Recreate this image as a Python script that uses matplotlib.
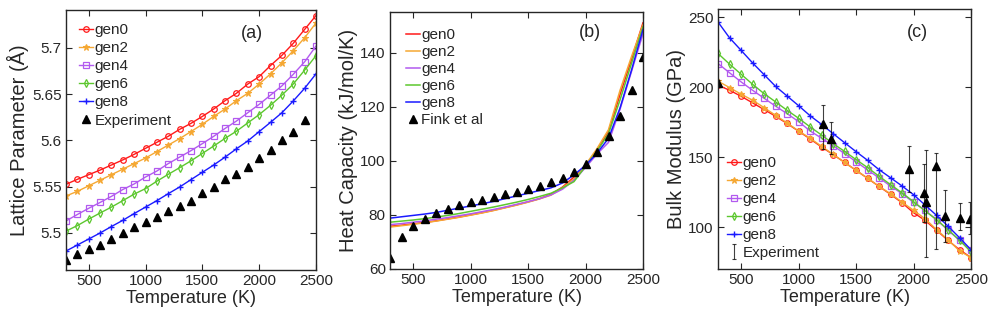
import matplotlib
matplotlib.use("Agg")
import matplotlib.pyplot as plt
from matplotlib.ticker import FuncFormatter

plt.rcParams['font.family'] = ['Liberation Sans', 'DejaVu Sans']
dark = '#262626'
plt.rcParams.update({'text.color': dark, 'axes.labelcolor': dark, 'xtick.color': dark,
                     'ytick.color': dark, 'axes.edgecolor': dark})

T = [300, 400, 500, 600, 700, 800, 900, 1000, 1100, 1200, 1300, 1400, 1500,
     1600, 1700, 1800, 1900, 2000, 2100, 2200, 2300, 2400, 2500]
series_names = ['gen0', 'gen2', 'gen4', 'gen6', 'gen8']
colors = ['#FF1A1A', '#F5A833', '#B25AEF', '#5CC72E', '#1A1AFF']
markers = ['o', '*', 's', 'd', '+']

# (a) Lattice parameter
lat_gen0 = [5.5526, 5.558, 5.563, 5.568, 5.5735, 5.579, 5.585, 5.5915, 5.598, 5.6045, 5.612, 5.6185,
            5.626, 5.634, 5.643, 5.651, 5.661, 5.669, 5.681, 5.692, 5.705, 5.720, 5.735]
lat_gen2 = [5.540, 5.545, 5.551, 5.557, 5.563, 5.569, 5.575, 5.581, 5.588, 5.595, 5.602, 5.6096,
            5.6175, 5.626, 5.634, 5.643, 5.651, 5.661, 5.672, 5.684, 5.697, 5.711, 5.727]
lat_gen4 = [5.513, 5.520, 5.5267, 5.533, 5.5396, 5.547, 5.553, 5.5605, 5.567, 5.575, 5.582, 5.589,
            5.5966, 5.6045, 5.613, 5.621, 5.630, 5.639, 5.649, 5.659, 5.6715, 5.685, 5.702]
lat_gen6 = [5.502, 5.508, 5.515, 5.5216, 5.528, 5.535, 5.542, 5.548, 5.556, 5.5634, 5.5706, 5.578,
            5.586, 5.594, 5.6023, 5.610, 5.619, 5.628, 5.638, 5.649, 5.661, 5.676, 5.6917]
lat_gen8 = [5.4805, 5.487, 5.4935, 5.500, 5.507, 5.5137, 5.521, 5.528, 5.535, 5.5425, 5.5497, 5.5577,
            5.5656, 5.5735, 5.582, 5.591, 5.5995, 5.6096, 5.6196, 5.630, 5.6427, 5.6564, 5.672]
lat_exp_T = [300, 400, 500, 600, 700, 800, 900, 1000, 1100, 1200, 1300, 1400, 1500,
             1600, 1700, 1800, 1900, 2000, 2100, 2200, 2300, 2400]
lat_exp = [5.471, 5.477, 5.483, 5.487, 5.494, 5.500, 5.5065, 5.512, 5.517, 5.524, 5.529, 5.5346,
           5.543, 5.550, 5.558, 5.5634, 5.571, 5.581, 5.590, 5.600, 5.6096, 5.622]

# (b) Heat capacity
cp_gen0 = [75.8, 76.2, 76.7, 77.2, 77.8, 78.5, 79.2, 80.0, 80.8, 81.7, 82.7, 83.7, 84.8,
           86.0, 87.6, 90.3, 94.0, 98.0, 103.8, 110.8, 124.5, 137.5, 151.0]
cp_gen2 = [75.5, 76.0, 76.5, 77.1, 77.7, 78.4, 79.1, 79.9, 80.7, 81.6, 82.6, 83.6, 84.7,
           85.9, 87.3, 90.0, 93.3, 98.5, 104.5, 111.5, 126.0, 138.5, 150.3]
cp_gen4 = [76.4, 76.8, 77.3, 77.8, 78.4, 79.0, 79.7, 80.4, 81.2, 82.0, 82.9, 83.9, 84.9,
           86.0, 87.4, 89.5, 92.8, 97.5, 102.5, 106.8, 119.0, 133.0, 147.0]
cp_gen6 = [77.3, 77.7, 78.1, 78.6, 79.2, 79.8, 80.5, 81.3, 82.1, 82.9, 83.8, 84.7, 85.7,
           86.8, 88.0, 90.0, 92.3, 98.0, 103.5, 110.0, 122.5, 136.0, 149.5]
cp_gen8 = [78.8, 79.3, 79.8, 80.3, 80.9, 81.7, 82.5, 83.3, 84.1, 85.0, 86.0, 87.0, 88.0,
           89.0, 90.0, 91.8, 94.8, 98.3, 102.8, 108.3, 119.5, 133.5, 148.5]
cp_exp = [64.1, 71.8, 76.0, 78.6, 80.7, 82.2, 83.5, 84.6, 85.6, 86.6, 87.6, 88.4, 89.5,
          90.6, 92.0, 93.5, 95.9, 98.9, 103.3, 109.0, 116.5, 126.2, 138.3]

# (c) Bulk modulus
bm_gen0 = [201.5, 197.9, 193.6, 188.9, 184.1, 179.3, 174.1, 168.6, 163.1, 157.3, 151.9, 146.3, 140.6,
           134.9, 129.1, 123.4, 117.4, 110.3, 104.8, 97.7, 90.5, 83.8, 78.2]
bm_gen2 = [204.4, 199.8, 195.1, 190.8, 185.5, 180.0, 174.5, 168.8, 163.6, 157.8, 152.1, 146.3, 140.6,
           135.1, 129.1, 123.9, 117.9, 112.0, 106.0, 98.2, 91.0, 82.9, 78.2]
bm_gen4 = [217.0, 210.4, 203.9, 197.9, 192.2, 186.5, 181.2, 175.5, 168.8, 163.6, 158.3, 152.6, 146.8,
           140.9, 135.2, 129.4, 123.9, 117.7, 112.0, 105.3, 97.7, 90.5, 83.8]
bm_gen6 = [224.2, 216.6, 209.4, 202.2, 195.5, 189.6, 183.6, 177.9, 171.7, 165.9, 159.7, 154.2, 148.3,
           142.6, 136.4, 130.4, 124.5, 118.2, 111.6, 105.3, 98.2, 90.6, 82.2]
bm_gen8 = [246.7, 235.4, 226.5, 217.5, 209.1, 200.7, 193.8, 186.9, 179.7, 173.5, 166.9, 160.4, 154.0,
           147.8, 141.1, 135.3, 129.4, 123.2, 115.8, 108.4, 100.7, 92.4, 83.8]
bm_exp_T = [300, 1217, 1283, 1960, 2088, 2105, 2198, 2270, 2401, 2494]
bm_exp = [203.0, 174.0, 163.3, 141.3, 124.4, 117.9, 143.5, 107.6, 106.7, 106.0]
bm_err_lo = [2.0, 17.8, 10.7, 16.2, 20.5, 39.4, 59.0, 18.4, 9.1, 10.8]
bm_err_hi = [2.0, 13.2, 11.9, 16.5, 20.5, 37.0, 9.5, 18.7, 10.8, 11.9]

lat_all = [lat_gen0, lat_gen2, lat_gen4, lat_gen6, lat_gen8]
cp_all = [cp_gen0, cp_gen2, cp_gen4, cp_gen6, cp_gen8]
bm_all = [bm_gen0, bm_gen2, bm_gen4, bm_gen6, bm_gen8]

fig = plt.figure(figsize=(9.96, 3.22), dpi=100)
W, H = 996.0, 322.0
def add_ax(l, r, t, b):
    return fig.add_axes([l / W, 1 - b / H, (r - l) / W, (b - t) / H])

axa = add_ax(66, 316, 10, 270)
axb = add_ax(390, 643, 12, 269)
axc = add_ax(718, 971, 9, 269)

tick_fs = 11
xlab_fs = 13
ylab_fs = 14.5
leg_fs = 11

def mstyle(m, c):
    if m == '*':
        return dict(marker=m, markersize=4.5, markeredgewidth=0.8,
                    markerfacecolor=c, markeredgecolor=c)
    if m == '+':
        return dict(marker=m, markersize=5, markeredgewidth=1.0,
                    markerfacecolor=c, markeredgecolor=c)
    return dict(marker=m, markersize=4, markeredgewidth=0.9, markerfacecolor='none',
                markeredgecolor=c)

for ys, name, c, m in zip(lat_all, series_names, colors, markers):
    axa.plot(T, ys, color=c, lw=1.0, label=name, **mstyle(m, c))
axa.plot(lat_exp_T, lat_exp, linestyle='none', marker='^', color='k', markersize=6,
         label='Experiment')

for ys, name, c in zip(cp_all, series_names, colors):
    axb.plot(T, ys, color=c, lw=1.1, label=name)
axb.plot(T, cp_exp, linestyle='none', marker='^', color='k', markersize=6, label='Fink et al')

for ys, name, c, m in zip(bm_all, series_names, colors, markers):
    axc.plot(T, ys, color=c, lw=1.0, label=name, **mstyle(m, c))
axc.errorbar(bm_exp_T, bm_exp, yerr=[bm_err_lo, bm_err_hi], fmt='none', ecolor='k',
             elinewidth=0.8, capsize=1.5, capthick=0.8, label='Experiment', alpha=0.75)
axc.plot(bm_exp_T, bm_exp, linestyle='none', marker='^', color='k', markersize=6)

for ax in (axa, axb, axc):
    ax.set_xlim(300, 2500)
    ax.set_xticks([500, 1000, 1500, 2000, 2500])
    ax.tick_params(direction='in', top=True, right=True, labelsize=tick_fs, length=4,
                   width=0.8, pad=3)
    ax.set_xlabel('Temperature (K)', fontsize=xlab_fs, labelpad=1)
    for sp in ax.spines.values():
        sp.set_linewidth(1.0)

axa.set_ylim(5.46, 5.741)
axa.set_yticks([5.5, 5.55, 5.6, 5.65, 5.7])
axa.yaxis.set_major_formatter(FuncFormatter(lambda v, p: '%g' % round(v, 3)))
axa.set_ylabel('Lattice Parameter (Å)', fontsize=ylab_fs, labelpad=2)

axb.set_ylim(60, 155)
axb.set_yticks([60, 80, 100, 120, 140])
axb.set_ylabel('Heat Capacity (kJ/mol/K)', fontsize=ylab_fs, labelpad=2)

axc.set_ylim(70, 256)
axc.set_yticks([100, 150, 200, 250])
axc.set_ylabel('Bulk Modulus (GPa)', fontsize=ylab_fs, labelpad=2)

axa.text(0.745, 0.91, '(a)', transform=axa.transAxes, fontsize=13, ha='center', va='center')
axb.text(0.79, 0.92, '(b)', transform=axb.transAxes, fontsize=13, ha='center', va='center')
axc.text(0.787, 0.91, '(c)', transform=axc.transAxes, fontsize=13, ha='center', va='center')

leg_kw = dict(frameon=False, fontsize=leg_fs, handlelength=0.9, handletextpad=0.1,
              borderpad=0.3)
axa.legend(loc='upper left', labelspacing=0.27, borderaxespad=0.55, **leg_kw)
axb.legend(loc='upper left', labelspacing=0.2, borderaxespad=0.75, **leg_kw)
axc.legend(loc='lower left', labelspacing=0.26, borderaxespad=0.3, **leg_kw)

fig.savefig('out.png', dpi=100)
